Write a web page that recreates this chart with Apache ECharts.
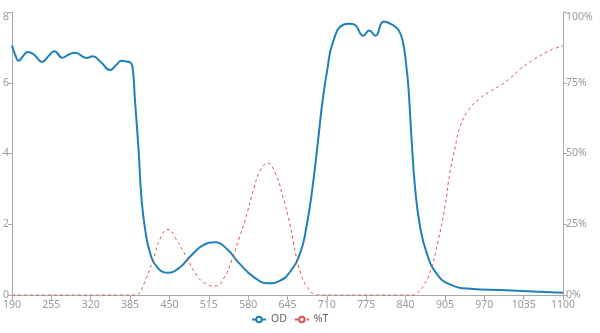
<!DOCTYPE html>
<html><head><meta charset="utf-8">
<script src="https://cdn.jsdelivr.net/npm/echarts@6/dist/echarts.min.js"></script>
<style>html,body{margin:0;padding:0;background:#fff}#c{width:600px;height:333px}</style>
</head><body><div id="c"></div>
<script>
var seriesNames = ['OD', '%T'];
var xTicks = [190, 255, 320, 385, 450, 515, 580, 645, 710, 775, 840, 905, 970, 1035, 1100];
var odWavelength = [190,195,201,208,216,226,240,250,260,273,284,294,313,323,337,352,362,371,380,385,389,393,399,404,410,418,429,447,465,485,505,525,545,565,590,613,632,649,666,676,686,695,703,711,720,737,748,756,770,780,790,804,818,828,835,842,845,850,856,864,875,891,913,951,996,1050,1100];
var odValues = [7.05,6.8,6.62,6.75,6.87,6.8,6.59,6.75,6.89,6.71,6.8,6.85,6.70,6.75,6.58,6.36,6.5,6.62,6.6,6.58,6.45,5.52,4.1,2.69,1.84,1.19,0.8,0.63,0.75,1.1,1.4,1.49,1.3,0.9,0.5,0.33,0.4,0.65,1.19,1.9,3.0,4.3,5.5,6.4,7.15,7.64,7.67,7.64,7.33,7.48,7.33,7.73,7.64,7.5,7.21,6.36,5.8,4.38,2.97,1.93,1.18,0.61,0.3,0.17,0.14,0.1,0.065];
var tWavelength = [190,395,399,410,423,435,448,460,478,495,510,525,540,553,565,575,590,600,612,625,637,649,658,667,677,690,700,855,859,870,880,894,905,913,922,930,944,960,980,996,1015,1030,1050,1070,1085,1100];
var tValues = [0,0,0.3,5,12.4,20,23.2,20,13.5,7,4,3.2,6,12.4,20,26.5,38,44,46.6,43,35,25,15,7.5,3,0.3,0,0,0.5,3.5,7.8,19.4,31.2,43,52.4,59.5,65.4,69,72,74,77,80,83,85.5,87,88];

function pairs(xs, ys){ return xs.map(function(x,i){return [x, ys[i]];}); }

var chart = echarts.init(document.getElementById('c'));
var labelColor = '#999';
var lineColor = '#aaa';
chart.setOption({
  animation: false,
  textStyle: {fontFamily: 'Noto Sans'},
  grid: {left: 12, right: 37, top: 12, bottom: 38},
  legend: {
    data: seriesNames, bottom: 3, left: 246, itemWidth: 14, itemHeight: 7, itemGap: 7,
    textStyle: {color: '#666', fontSize: 10.5}
  },
  xAxis: {
    type: 'value', min: xTicks[0], max: xTicks[xTicks.length-1], interval: xTicks[1]-xTicks[0],
    splitLine: {show: false},
    axisLine: {lineStyle: {color: lineColor}},
    axisTick: {lineStyle: {color: lineColor}, length: 5},
    axisLabel: {color: labelColor, fontSize: 10.5, margin: 5, formatter: function(v){return String(v);}}
  },
  yAxis: [{
    type: 'value', min: 0, max: 8, interval: 2,
    splitLine: {show: false},
    axisLine: {show: true, lineStyle: {color: lineColor}},
    axisTick: {show: true, length: 4, lineStyle: {color: lineColor}},
    axisLabel: {color: labelColor, fontSize: 10.5, margin: 3, verticalAlignMaxLabel: 'top'}
  }, {
    type: 'value', min: 0, max: 100, interval: 25, position: 'right',
    splitLine: {show: false},
    axisLine: {show: true, lineStyle: {color: lineColor}},
    axisTick: {show: true, length: 4, lineStyle: {color: lineColor}},
    axisLabel: {color: labelColor, fontSize: 10.5, margin: 3, formatter: '{value}%', verticalAlignMaxLabel: 'top'}
  }],
  series: [{
    name: seriesNames[0], type: 'line', yAxisIndex: 0, smooth: 0.5, showSymbol: false,
    symbol: 'emptyCircle',
    itemStyle: {color: '#1f80b8'},
    lineStyle: {color: '#1f80b8', width: 2},
    data: pairs(odWavelength, odValues)
  }, {
    name: seriesNames[1], type: 'line', yAxisIndex: 1, smooth: 0.5, showSymbol: false,
    symbol: 'emptyCircle',
    itemStyle: {color: '#d9534f'},
    lineStyle: {color: '#d9534f', width: 1, type: [3, 3]},
    data: pairs(tWavelength, tValues)
  }]
});
</script></body></html>
